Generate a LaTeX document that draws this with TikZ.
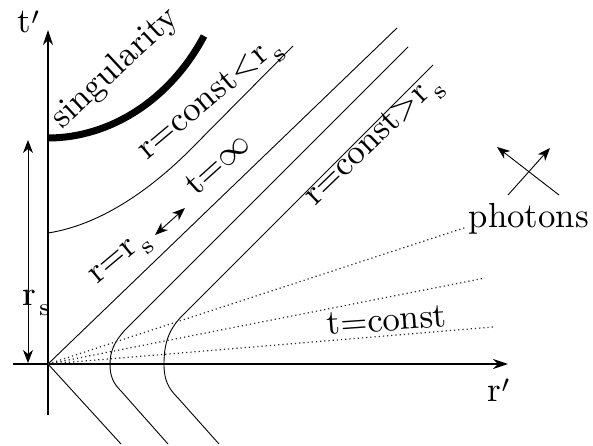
\documentclass[tikz,border=0pt]{standalone}
\usetikzlibrary{arrows.meta}
\newcommand\rsub{r\kern0.8pt\raisebox{-2.9pt}{\scriptsize s}}
\newcommand\myprime{\raisebox{-1.2pt}{$'$}}
\tikzset{
  lbl/.style={font=\normalsize, scale=3.48, inner sep=0pt, anchor=base west},
  thinline/.style={line width=0.9pt},
  axis/.style={line width=1.3pt, -{Stealth[length=15pt,width=10pt,inset=5pt]}},
  dbl/.style={line width=0.9pt, {Stealth[length=13pt,width=10pt,inset=4pt]}-{Stealth[length=13pt,width=10pt,inset=4pt]}},
  arr/.style={line width=0.9pt, -{Stealth[length=13pt,width=10pt,inset=4pt]}},
  dots/.style={line width=1.2pt, dash pattern=on 1.2pt off 3pt, gray!30!black},
  sing/.style={line width=7pt}
}
\begin{document}
\begin{tikzpicture}[x=1pt,y=-1pt]
\useasboundingbox (0,0) rectangle (593,446);
% coordinates
\coordinate (O) at (48,364);
\coordinate (tb) at (48,415);
\coordinate (tt) at (48,30);
\coordinate (rl) at (13,364);
\coordinate (rr) at (508,364);
% axes
\draw[axis] (tb) -- (tt);
\draw[axis] (rl) -- (rr);
% r_s double arrow
\coordinate (rsT) at (28,140);
\coordinate (rsB) at (28,363);
\draw[dbl] (rsB) -- (rsT);
% singularity
\coordinate (s0) at (48,138);
\coordinate (s1) at (204,36);
\draw[sing] (s0) .. controls (110,138) and (170,100) .. (s1);
% r=const<r_s
\coordinate (c0) at (48,233);
\coordinate (c1) at (190,150);
\coordinate (c2) at (293,46);
\draw[thinline] (c0) .. controls (100,225) and (150,190) .. (c1) -- (c2);
% horizon r=r_s
\coordinate (h1) at (397,28);
\coordinate (h2) at (121,444);
\draw[thinline] (h2) -- (O) -- (h1);
% inner hyperbola
\coordinate (a0) at (408,47);
\coordinate (a1) at (125,330);
\coordinate (av) at (110,364);
\coordinate (a2) at (121,391);
\coordinate (a3) at (168,444);
\draw[thinline] (a0) -- (a1) .. controls (114,342) and (110,352) .. (av)
  .. controls (110,376) and (113,383) .. (a2) -- (a3);
% outer hyperbola
\coordinate (b0) at (433,65);
\coordinate (b1) at (182,316);
\coordinate (bv) at (164,364);
\coordinate (b2) at (178,398);
\coordinate (b3) at (219,444);
\draw[thinline] (b0) -- (b1) .. controls (168,330) and (164,345) .. (bv)
  .. controls (164,380) and (168,388) .. (b2) -- (b3);
% t=const dotted
\coordinate (d1) at (467,227);
\coordinate (d2) at (485,278);
\coordinate (d3) at (493,327);
\draw[dots] (O) -- (d1);
\draw[dots] (O) -- (d2);
\draw[dots] (O) -- (d3);
% photon arrows
\coordinate (p1a) at (508,195);
\coordinate (p1b) at (550,148);
\coordinate (p2a) at (559,195);
\coordinate (p2b) at (497,147);
\draw[arr] (p1a) -- (p1b);
\draw[arr] (p2a) -- (p2b);
% horizon double arrow
\coordinate (ha) at (155,235);
\coordinate (hb) at (185,208);
\draw[dbl] (ha) -- (hb);
% labels
\node[lbl] (tlab) at (17,33) {t\myprime};
\node[lbl] (rlab) at (487,401) {r\myprime};
\node[lbl] (rslab) at (22,305) {\rsub};
\node[lbl, rotate=43] (singlab) at (62,130) {singularity};
\node[lbl, rotate=40] (lesslab) at (147,161) {r=const$<$\rsub};
\node[lbl, rotate=42] (tinf) at (196,197) {t=$\infty$};
\node[lbl, rotate=40] (rrs) at (97,285) {r=\rsub};
\node[lbl, rotate=44] (morelab) at (315,207) {r=const$>$\rsub};
\node[lbl, rotate=4] (tconst) at (327,335) {t=const};
\node[lbl] (phot) at (468,227) {photons};
\end{tikzpicture}
\end{document}
